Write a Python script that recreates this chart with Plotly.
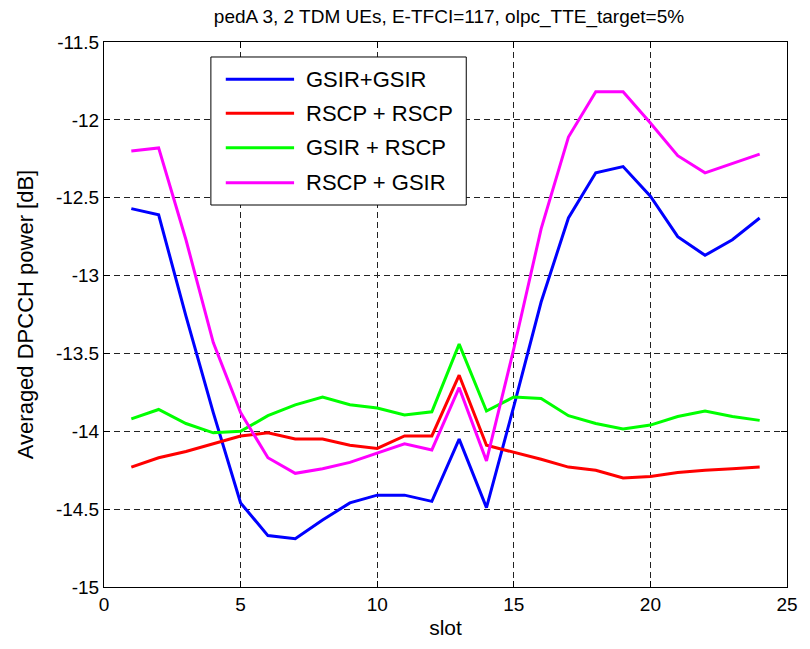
import plotly.graph_objects as go

slots = list(range(1, 25))

gsir_gsir = [-12.57, -12.61, -13.26, -13.88, -14.46, -14.67, -14.69, -14.57, -14.46, -14.41,
             -14.41, -14.45, -14.05, -14.49, -13.84, -13.17, -12.63, -12.34, -12.30, -12.49,
             -12.75, -12.87, -12.77, -12.63]
rscp_rscp = [-14.23, -14.17, -14.13, -14.08, -14.03, -14.01, -14.05, -14.05, -14.09, -14.11,
             -14.03, -14.03, -13.64, -14.09, -14.135, -14.18, -14.23, -14.25, -14.30, -14.29,
             -14.265, -14.25, -14.24, -14.23]
gsir_rscp = [-13.92, -13.86, -13.95, -14.01, -14.00, -13.90, -13.83, -13.78, -13.83, -13.85,
             -13.895, -13.875, -13.44, -13.87, -13.78, -13.79, -13.90, -13.95, -13.985, -13.96,
             -13.905, -13.87, -13.905, -13.93]
rscp_gsir = [-12.20, -12.18, -12.77, -13.43, -13.88, -14.17, -14.27, -14.24, -14.20, -14.14,
             -14.08, -14.12, -13.72, -14.19, -13.47, -12.70, -12.11, -11.82, -11.82, -12.02,
             -12.23, -12.34, -12.28, -12.22]

series_names = ["GSIR+GSIR", "RSCP + RSCP", "GSIR + RSCP", "RSCP + GSIR"]
series_values = [gsir_gsir, rscp_rscp, gsir_rscp, rscp_gsir]
series_colors = ["#0000FF", "#FF0000", "#00FF00", "#FF00FF"]

x_ticks = [0, 5, 10, 15, 20, 25]
y_ticks = [-15, -14.5, -14, -13.5, -13, -12.5, -12, -11.5]
y_tick_text = ["-15", "-14.5", "-14", "-13.5", "-13", "-12.5", "-12", "-11.5"]

title_text = "pedA 3, 2 TDM UEs, E-TFCI=117, olpc_TTE_target=5%"
x_title = "slot"
y_title = "Averaged DPCCH power [dB]"

FONT = "Liberation Sans, Arial, Helvetica, sans-serif"

fig = go.Figure()
for name, vals, col in zip(series_names, series_values, series_colors):
    fig.add_trace(go.Scatter(x=slots, y=vals, mode="lines", name=name,
                             line=dict(color=col, width=3), showlegend=False))

# Manual MATLAB-style legend
lx0, lx1, ly0, ly1 = 0.1565, 0.5304, 0.7009, 0.9725
shapes = [dict(type="rect", xref="paper", yref="paper", x0=lx0, x1=lx1, y0=ly0, y1=ly1,
               line=dict(color="black", width=1), fillcolor="white", layer="above")]
annotations = []
row_y = [0.9316, 0.8691, 0.8061, 0.7418]
for name, col, ry in zip(series_names, series_colors, row_y):
    shapes.append(dict(type="line", xref="paper", yref="paper", x0=0.1783, x1=0.2783,
                       y0=ry, y1=ry, line=dict(color=col, width=3), layer="above"))
    annotations.append(dict(xref="paper", yref="paper", x=0.2928, y=ry, text=name,
                            showarrow=False, xanchor="left", yanchor="middle",
                            font=dict(family=FONT, size=22, color="black")))

axis_common = dict(
    showline=True, linecolor="black", linewidth=1, mirror="ticks",
    ticks="inside", ticklen=6, tickcolor="black",
    showgrid=True, gridcolor="#222222", gridwidth=1, griddash="6px,4px",
    zeroline=False, tickfont=dict(family=FONT, size=19, color="black"),
)

fig.update_layout(
    width=810, height=649,
    margin=dict(l=104, r=16, t=42, b=62),
    paper_bgcolor="white", plot_bgcolor="white",
    title=dict(text=title_text, x=0.5543, xanchor="center", y=0.975, yanchor="middle",
               font=dict(family=FONT, size=19, color="black")),
    xaxis=dict(range=[0, 25], tickvals=x_ticks,
               title=dict(text=x_title, font=dict(family=FONT, size=21, color="black"), standoff=6),
               **axis_common),
    yaxis=dict(range=[-15, -11.5], tickvals=y_ticks, ticktext=y_tick_text,
               title=dict(text=y_title, font=dict(family=FONT, size=22, color="black"), standoff=16),
               **axis_common),
    shapes=shapes, annotations=annotations,
    showlegend=False,
)

fig.write_html("out.html")
